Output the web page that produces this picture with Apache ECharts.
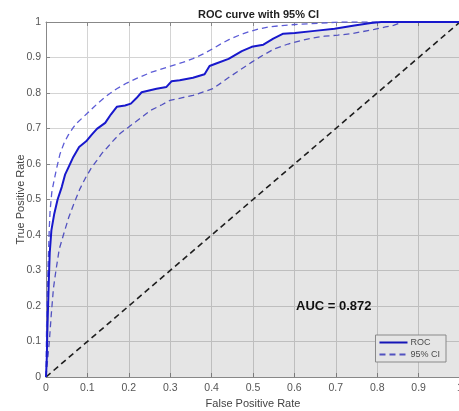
<!DOCTYPE html>
<html>
<head>
<meta charset="utf-8">
<script src="https://cdn.jsdelivr.net/npm/echarts@6/dist/echarts.min.js"></script>
<style>
html, body { margin: 0; padding: 0; background: #fff; }
#roc_chart { width: 459px; height: 411px; }
</style>
</head>
<body>
<div id="roc_chart"></div>
<script>
// values: [false positive rate, true positive rate]
var rocPoints = [[0,0],[0.002,0.056],[0.003,0.12],[0.005,0.2],[0.007,0.28],[0.009,0.35],[0.013,0.413],[0.02,0.46],[0.028,0.5],[0.038,0.535],[0.046,0.57],[0.054,0.59],[0.066,0.62],[0.08,0.648],[0.097,0.664],[0.11,0.682],[0.123,0.699],[0.143,0.716],[0.157,0.74],[0.171,0.761],[0.191,0.765],[0.205,0.770],[0.218,0.785],[0.231,0.802],[0.267,0.812],[0.291,0.817],[0.303,0.833],[0.323,0.836],[0.355,0.843],[0.383,0.853],[0.395,0.876],[0.411,0.883],[0.441,0.896],[0.473,0.918],[0.497,0.93],[0.525,0.936],[0.549,0.953],[0.573,0.967],[0.601,0.969],[0.649,0.975],[0.697,0.981],[0.745,0.99],[0.785,0.997],[0.81,1.0],[1,1]];
var ciUpper = [[0,0],[0.001,0.1],[0.002,0.2],[0.004,0.28],[0.006,0.35],[0.008,0.42],[0.01,0.47],[0.014,0.52],[0.018,0.545],[0.026,0.59],[0.034,0.629],[0.044,0.66],[0.054,0.682],[0.066,0.703],[0.075,0.716],[0.099,0.742],[0.115,0.76],[0.131,0.777],[0.15,0.795],[0.171,0.812],[0.195,0.828],[0.219,0.841],[0.251,0.857],[0.28,0.868],[0.307,0.878],[0.33,0.886],[0.355,0.897],[0.38,0.91],[0.403,0.925],[0.425,0.94],[0.443,0.951],[0.465,0.962],[0.489,0.972],[0.513,0.98],[0.537,0.986],[0.57,0.99],[0.601,0.993],[0.635,0.995],[0.665,0.997],[0.713,1.0],[1,1]];
var ciLower = [[0,0],[0.004,0.05],[0.008,0.1],[0.013,0.18],[0.018,0.25],[0.024,0.3],[0.032,0.36],[0.042,0.4],[0.055,0.45],[0.068,0.49],[0.082,0.53],[0.095,0.56],[0.11,0.59],[0.123,0.61],[0.135,0.63],[0.147,0.645],[0.162,0.665],[0.179,0.686],[0.195,0.7],[0.211,0.714],[0.235,0.735],[0.251,0.75],[0.28,0.767],[0.299,0.779],[0.33,0.787],[0.355,0.793],[0.38,0.803],[0.403,0.812],[0.425,0.83],[0.443,0.845],[0.47,0.866],[0.497,0.887],[0.525,0.907],[0.553,0.925],[0.585,0.938],[0.617,0.948],[0.645,0.955],[0.673,0.96],[0.705,0.963],[0.737,0.967],[0.765,0.973],[0.793,0.979],[0.82,0.986],[0.841,0.991],[0.86,1.0],[1,1]];
var chancePoints = [[0,0],[1,1]];
var aucText = 'AUC = 0.872';

var dom = document.getElementById("roc_chart");
var myChart = echarts.init(dom);
var font = 'Liberation Sans, Arial, sans-serif';
var ciColor = '#5c5cd6';

option = {
    animation: false,
    textStyle: { fontFamily: font },
    title: {
        text: 'ROC curve with 95% CI',
        left: 193,
        top: 4,
        textStyle: { fontSize: 11, fontWeight: 'bold', color: '#222', fontFamily: font }
    },
    grid: { left: 46, right: -1, top: 22, bottom: 34, containLabel: false, outerBoundsMode: 'none' },
    legend: {
        right: 13,
        bottom: 49,
        orient: 'vertical',
        itemWidth: 28,
        itemHeight: 6,
        itemGap: 3,
        padding: [3, 6, 3, 3],
        backgroundColor: '#fff',
        borderColor: '#999',
        borderWidth: 1,
        borderRadius: 0,
        itemStyle: { opacity: 0 },
        textStyle: { fontSize: 9, color: '#555', fontFamily: font, padding: [0, 0, 0, -2] },
        data: ['ROC', '95% CI']
    },
    xAxis: [{
        type: 'value',
        min: 0, max: 1, interval: 0.1,
        name: 'False Positive Rate',
        nameLocation: 'middle',
        nameGap: 21,
        nameTextStyle: { fontSize: 11, color: '#444' },
        axisLine: { show: true, lineStyle: { color: '#888', width: 1 } },
        axisTick: { show: true, inside: true, length: 4, lineStyle: { color: '#888' } },
        axisLabel: { fontSize: 10.5, color: '#555', margin: 6 },
        splitLine: { show: true, lineStyle: { color: '#d4d4d4', width: 1 } }
    }, {
        type: 'value', position: 'top',
        min: 0, max: 1, interval: 0.1,
        axisLine: { show: true, lineStyle: { color: '#888', width: 1 } },
        axisTick: { show: true, inside: true, length: 4, lineStyle: { color: '#888' } },
        axisLabel: { show: false },
        splitLine: { show: false }
    }],
    yAxis: {
        type: 'value',
        min: 0, max: 1, interval: 0.1,
        name: 'True Positive Rate',
        nameLocation: 'middle',
        nameGap: 20,
        nameMoveOverlap: false,
        nameTextStyle: { fontSize: 11, color: '#444' },
        axisLine: { show: true, lineStyle: { color: '#888', width: 1 } },
        axisTick: { show: true, inside: true, length: 4, lineStyle: { color: '#888' } },
        axisLabel: { fontSize: 10.5, color: '#555', margin: 5 },
        splitLine: { show: true, lineStyle: { color: '#d4d4d4', width: 1 } }
    },
    graphic: [{
        type: 'text',
        left: 296,
        top: 300,
        z: 100,
        style: { text: aucText, font: 'bold 13px ' + font, fill: '#111' }
    }],
    series: [
        {
            name: 'chance',
            type: 'line',
            data: chancePoints,
            symbol: 'none',
            lineStyle: { color: '#222', width: 1.6, type: [6, 4] },
            z: 2
        },
        {
            name: 'ROC',
            type: 'line',
            data: rocPoints,
            symbol: 'none',
            lineStyle: { color: '#1818cc', width: 2 },
            itemStyle: { color: '#1818cc' },
            areaStyle: { color: 'rgba(0,0,0,0.1)', opacity: 1 },
            z: 4
        },
        {
            name: '95% CI',
            type: 'line',
            data: ciUpper,
            symbol: 'none',
            lineStyle: { color: ciColor, width: 1.3, type: [6, 4] },
            itemStyle: { color: ciColor },
            z: 3
        },
        {
            name: '95% CI',
            type: 'line',
            data: ciLower,
            symbol: 'none',
            lineStyle: { color: ciColor, width: 1.3, type: [6, 4] },
            itemStyle: { color: ciColor },
            z: 3
        }
    ]
};
if (option && typeof option === "object") {
    myChart.setOption(option, true);
}
window.onresize = myChart.resize;
</script>
</body>
</html>
